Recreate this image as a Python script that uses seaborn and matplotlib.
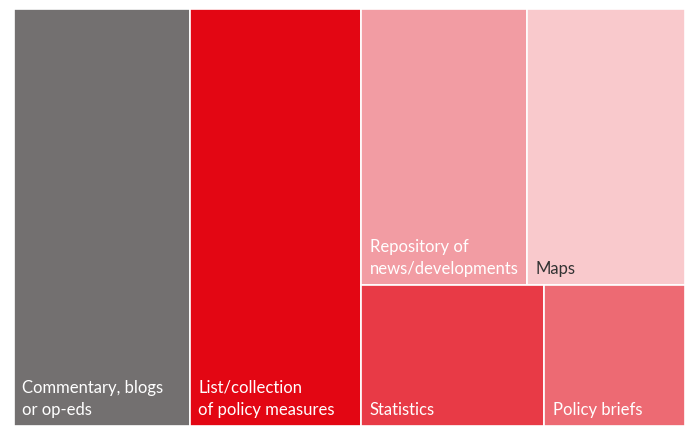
import seaborn as sns
import matplotlib.pyplot as plt

# categories and their counts (read from the tile areas)
labels = ["Commentary, blogs\nor op-eds", "List/collection\nof policy measures",
          "Repository of\nnews/developments", "Maps", "Statistics", "Policy briefs"]
values = [37, 36, 23, 22, 13, 10]
colors = ["#737070", "#e30613", "#f29ca3", "#f9c9cc", "#e83a46", "#ed6a73"]
text_colors = ["white", "white", "white", "#333333", "white", "white"]

# layout: two full-height columns, then a block of two rows with two tiles each
columns = [[0], [1], [[2, 3], [4, 5]]]


def layout(values, columns):
    total = sum(values)
    rects = {}
    x = 0.0
    for col in columns:
        if isinstance(col[0], list):
            col_sum = sum(values[i] for row in col for i in row)
            w = col_sum / total
            y = 1.0
            for row in col:
                row_sum = sum(values[i] for i in row)
                h = row_sum / col_sum
                y -= h
                rx = x
                for i in row:
                    rw = w * values[i] / row_sum
                    rects[i] = (rx, y, rw, h)
                    rx += rw
            x += w
        else:
            w = sum(values[i] for i in col) / total
            rects[col[0]] = (x, 0.0, w, 1.0)
            x += w
    return rects


def main():
    sns.set_theme(style="white")
    plt.rcParams['font.family'] = ['Lato', 'DejaVu Sans']

    fig = plt.figure(figsize=(6.88, 4.26), dpi=100)
    ax = fig.add_axes([14 / 688, 0, 671 / 688, 417 / 426])

    rects = layout(values, columns)
    for i, lab in enumerate(labels):
        x, y, w, h = rects[i]
        ax.bar(x, h, width=w, bottom=y, align="edge", color=colors[i],
               edgecolor="white", linewidth=1.2)
        ax.annotate(lab, (x, y), xytext=(6, 6), textcoords="offset points",
                    ha="left", va="bottom", color=text_colors[i],
                    fontsize=12, linespacing=1.45)

    ax.set_xlim(0, 1)
    ax.set_ylim(0, 1)
    ax.axis("off")
    fig.savefig("out.png", dpi=100)


if __name__ == '__main__':
    main()
